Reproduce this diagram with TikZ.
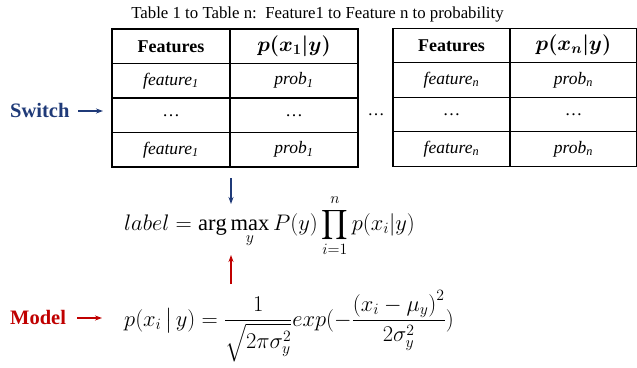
\RequirePackage{fix-cm}
\documentclass[tikz,border=0pt]{standalone}
\usepackage{amsmath}
\usepackage{fontspec}
\setmainfont{Liberation Serif}
\newfontfamily\tms{Liberation Serif}
\usetikzlibrary{arrows.meta}
\definecolor{navyc}{HTML}{1F3A78}
\definecolor{redc}{HTML}{C00000}
\begin{document}
\begin{tikzpicture}[x=1pt,y=-1pt,
  cell/.style={draw, line width=1.1pt, inner sep=0pt, minimum height=34.5pt,
    font=\tms\fontsize{17.5}{20}\selectfont},
  ca/.style={cell, minimum width=118pt},
  cb/.style={cell, minimum width=128pt},
  hd/.style={font=\tms\fontsize{18}{20}\selectfont\bfseries},
  hm/.style={font=\fontsize{21}{24}\selectfont\boldmath},
  side/.style={font=\tms\fontsize{20.5}{24}\selectfont\bfseries, anchor=west, inner sep=0pt},
  arr/.style={line width=1.8pt, -{Stealth[length=7pt,width=5pt]}},
  eq/.style={font=\fontsize{22.5}{26}\selectfont, inner sep=0pt}]
\useasboundingbox (0,0) rectangle (637,367);

\node[font=\tms\fontsize{16.8}{20}\selectfont, inner sep=0pt] (title) at (317.5,14)
  {Table 1 to Table n:\ \ Feature1 to Feature n to probability};

% table 1
\node[ca, hd] (a11) at (171,46.25) {Features};
\node[cb, hm] (a12) at (294,46.25) {$p(x_1|y)$};
\node[ca] (a21) at (171,80.75) {\textit{feature}\textsubscript{\textit{1}}};
\node[cb] (a22) at (294,80.75) {\textit{prob}\textsubscript{\textit{1}}};
\node[ca] (a31) at (171,115.25) {…};
\node[cb] (a32) at (294,115.25) {…};
\node[ca] (a41) at (171,149.75) {\textit{feature}\textsubscript{\textit{1}}};
\node[cb] (a42) at (294,149.75) {\textit{prob}\textsubscript{\textit{1}}};

% table 2
\node[ca, hd, minimum width=117pt] (b11) at (451.5,45.5) {Features};
\node[cb, hm, minimum width=127pt] (b12) at (573.5,45.5) {$p(x_n|y)$};
\node[ca, minimum width=117pt] (b21) at (451.5,80) {\textit{feature}\textsubscript{\textit{n}}};
\node[cb, minimum width=127pt] (b22) at (573.5,80) {\textit{prob}\textsubscript{\textit{n}}};
\node[ca, minimum width=117pt] (b31) at (451.5,114.5) {…};
\node[cb, minimum width=127pt] (b32) at (573.5,114.5) {…};
\node[ca, minimum width=117pt] (b41) at (451.5,149) {\textit{feature}\textsubscript{\textit{n}}};
\node[cb, minimum width=127pt] (b42) at (573.5,149) {\textit{prob}\textsubscript{\textit{n}}};

\node[font=\tms\fontsize{17}{20}\selectfont, inner sep=0pt] (dots) at (376,115) {…};

% side labels
\node[side, text=navyc] (sw) at (10,110) {Switch};
\node[side, text=redc] (md) at (10,317) {Model};
\coordinate (swA) at (78,111);
\coordinate (swB) at (103,111);
\coordinate (mdA) at (77,318);
\coordinate (mdB) at (102,318);
\draw[arr, navyc] (swA) -- (swB);
\draw[arr, redc] (mdA) -- (mdB);

% formulas
\node[eq, anchor=west] (f1) at (124,226)
  {$\displaystyle label=\arg\max_y P(y)\prod_{i=1}^{n} p(x_i|y)$};
\node[eq, anchor=west] (f2) at (124,326)
  {$\displaystyle p(x_i\,\big|\,y)=\frac{1}{\sqrt{2\pi\sigma_y^2}}exp(-\frac{\left(x_i-\mu_y\right)^2}{2\sigma_y^2})$};

\coordinate (vA) at (231,178);
\coordinate (vB) at (231,204);
\coordinate (rA) at (231,284);
\coordinate (rB) at (231,255);
\draw[arr, navyc] (vA) -- (vB);
\draw[arr, redc] (rA) -- (rB);
\end{tikzpicture}
\end{document}
